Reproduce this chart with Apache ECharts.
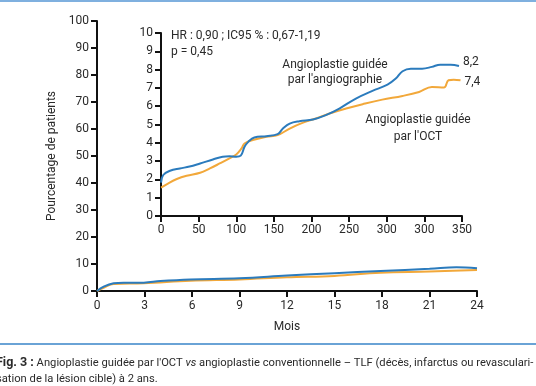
<!DOCTYPE html>
<html>
<head>
<meta charset="utf-8">
<script src="https://cdn.jsdelivr.net/npm/echarts@6/dist/echarts.min.js"></script>
<style>
html,body{margin:0;padding:0;background:#fff;}
#c{width:536px;height:386px;}
</style>
</head>
<body>
<div id="c"></div>
<script>
// Main chart (months, % patients)
const mainXTicks = [0,3,6,9,12,15,18,21,24];
const mainBlue = [[0,0],[0.42,1.6],[1.05,2.85],[1.68,3.1],[2.95,3.1],[4,3.7],[5.9,4.3],[9,4.7],[12,5.7],[15,6.6],[17.9,7.4],[21,8.2],[22.7,8.8],[24,8.4]];
const mainOrange = [[0,0],[0.42,1.2],[1.05,2.6],[2.95,2.85],[5.9,3.8],[9,4.3],[12,5.1],[15,5.6],[17.9,6.8],[21,7.2],[24,7.8]];

// Inset chart (days axis as drawn; tick labels as printed)
const insetXLabels = ['0','50','100','150','200','250','300','300','350'];
const insetBlue = [[0,1.82],[3,2.24],[12,2.47],[25,2.6],[38,2.7],[52,2.87],[69,3.09],[82,3.24],[91,3.27],[100,3.24],[106,3.3],[111,3.78],[116,4.05],[124,4.29],[140,4.36],[155,4.47],[162,4.78],[171,5.05],[184,5.18],[202,5.27],[219,5.51],[237,5.87],[259,6.42],[281,6.84],[301,7.18],[312,7.51],[321,7.91],[332,8.05],[347,8.05],[360,8.15],[371,8.27],[385,8.27],[396,8.2]];
const insetOrange = [[0,1.55],[7.5,1.73],[21,2.02],[34,2.2],[52,2.36],[65,2.6],[78,2.87],[91,3.15],[100,3.36],[107,3.69],[111,3.96],[122,4.15],[140,4.33],[155,4.42],[171,4.78],[188,5.09],[206,5.33],[224,5.6],[246,5.87],[268,6.11],[294,6.36],[321,6.56],[343,6.78],[360,7.05],[376,7.02],[382,7.42],[389,7.45],[398,7.42]];
const blueEnd = '8,2';
const orangeEnd = '7,4';

const BLUE = '#2b7bbd';
const ORANGE = '#f2a83a';
const TXT = '#2a2a2a';
const FONT = 'Roboto, "Noto Sans", sans-serif';

const axisLine = {show:true, lineStyle:{color:'#111', width:2}};
const axisTick = {show:true, length:6, lineStyle:{color:'#111', width:2}};

const chart = echarts.init(document.getElementById('c'), null, {renderer:'canvas'});
chart.setOption({
  backgroundColor:'#fff',
  animation:false,
  textStyle:{fontFamily:FONT},
  grid:[
    {left:97, right:59, top:21, bottom:95},
    {left:161, right:74, top:33, bottom:170}
  ],
  xAxis:[
    {gridIndex:0, type:'value', min:0, max:24, interval:3,
     axisLine, axisTick, splitLine:{show:false},
     axisLabel:{color:TXT, fontSize:12, margin:9, fontFamily:FONT,
       formatter:v=>mainXTicks.includes(v)?String(v):''},
     name:'Mois', nameLocation:'middle', nameGap:30,
     nameTextStyle:{color:TXT, fontSize:12, fontFamily:FONT}},
    {gridIndex:1, type:'value', min:0, max:400, interval:50,
     axisLine, axisTick, splitLine:{show:false},
     axisLabel:{color:TXT, fontSize:12, margin:8, fontFamily:FONT,
       formatter:v=>insetXLabels[Math.round(v/50)]}}
  ],
  yAxis:[
    {gridIndex:0, type:'value', min:0, max:100, interval:10,
     axisLine, axisTick, splitLine:{show:false},
     axisLabel:{color:TXT, fontSize:12, margin:8, fontFamily:FONT},
     name:'Pourcentage de patients', nameLocation:'middle', nameGap:36,
     nameTextStyle:{color:TXT, fontSize:12, fontFamily:FONT}},
    {gridIndex:1, type:'value', min:0, max:10, interval:1,
     axisLine, axisTick, splitLine:{show:false},
     axisLabel:{color:TXT, fontSize:12, margin:8, fontFamily:FONT}}
  ],
  series:[
    {type:'line', xAxisIndex:0, yAxisIndex:0, data:mainOrange, smooth:0.4, symbol:'none',
     lineStyle:{color:ORANGE, width:2}},
    {type:'line', xAxisIndex:0, yAxisIndex:0, data:mainBlue, smooth:0.4, symbol:'none',
     lineStyle:{color:BLUE, width:2}},
    {type:'line', xAxisIndex:1, yAxisIndex:1, data:insetOrange, smooth:0.4, symbol:'none',
     lineStyle:{color:ORANGE, width:2},
     endLabel:{show:true, formatter:orangeEnd, color:TXT, fontSize:12, distance:4, offset:[0,2], fontFamily:FONT}},
    {type:'line', xAxisIndex:1, yAxisIndex:1, data:insetBlue, smooth:0.4, symbol:'none',
     lineStyle:{color:BLUE, width:2},
     endLabel:{show:true, formatter:blueEnd, color:TXT, fontSize:12, distance:4, offset:[0,-4], fontFamily:FONT}}
  ],
  graphic:[
    {type:'rect', x:0, y:0, shape:{width:536, height:2}, style:{fill:'#7fb0df'}},
    {type:'rect', x:0, y:343, shape:{width:536, height:2}, style:{fill:'#6aa3d6'}},
    {type:'text', x:171, y:28, style:{text:'HR : 0,90 ; IC95 % : 0,67-1,19\np = 0,45', fill:TXT, font:'12px '+FONT, lineHeight:16}},
    {type:'text', x:335, y:72, style:{text:"Angioplastie guidée\npar l'angiographie", fill:TXT, font:'12px '+FONT, lineHeight:15, align:'center', verticalAlign:'middle'}},
    {type:'text', x:418, y:128, style:{text:"Angioplastie guidée\npar l'OCT", fill:TXT, font:'12px '+FONT, lineHeight:17, align:'center', verticalAlign:'middle'}},
    {type:'text', x:-4, y:355, style:{
      text:"{b|Fig. 3 :} Angioplastie guidée par l'OCT {i|vs} angioplastie conventionnelle – TLF (décès, infarctus ou revasculari-\nsation de la lésion cible) à 2 ans.",
      fill:TXT, font:'11.2px '+FONT, lineHeight:16,
      rich:{b:{fontWeight:'bold', fontSize:12.5, fontFamily:FONT, fill:TXT, lineHeight:16}, i:{fontStyle:'italic', fontSize:11.2, fontFamily:FONT, fill:TXT, lineHeight:16}}}}
  ]
});
</script>
</body>
</html>
